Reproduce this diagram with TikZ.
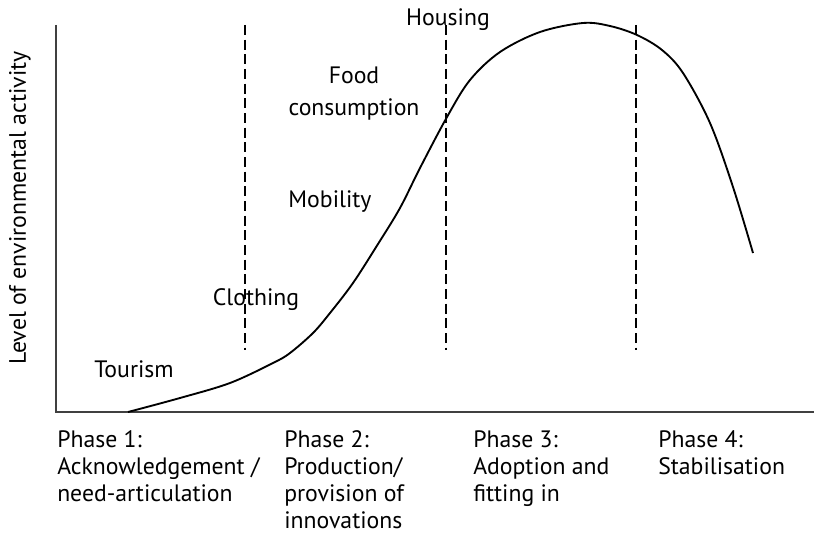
\documentclass[tikz,border=0pt]{standalone}
\usepackage{fontspec}
\setmainfont{PT Sans}
\usetikzlibrary{positioning}

\begin{document}
\begin{tikzpicture}[x=0.75pt,y=-0.75pt,
  item/.style={font=\fontsize{17.8}{24}\selectfont, inner sep=0pt},
  phase/.style={font=\fontsize{17.8}{20.3}\selectfont, align=left, anchor=north west, inner sep=0pt},
  phaseline/.style={dash pattern=on 7.5pt off 3.5pt, line width=0.8pt}]
  \useasboundingbox (0,0) rectangle (814,542);

  \draw[line width=1.1pt, black!75] (56,25) -- (56,412) -- (814,412) ; %Draw axes

  \draw[phaseline] (245,25) -- (245,350) ; %Phase boundaries
  \draw[phaseline] (446,25) -- (446,350) ;
  \draw[phaseline] (636,25) -- (636,350) ;

  \draw[line width=1.4pt] plot[smooth, tension=0.55] coordinates {
    (128,412) (180,398) (230,383) (273,363) (290,353) (313,333) (330,313)
    (353,283) (378,244) (400,208) (420,168) (447,117) (470,80) (500,52)
    (540,32) (583,23) (610,26) (637,35) (662,50) (683,73) (710,123)
    (733,187) (753,253)} ; %Draw activity curve

  \node[item, rotate=90] (ylabel) at (20,208) {Level of environmental activity};
  \node[item] (tourism) at (134,369) {Tourism};
  \node[item] (clothing) at (256,300) {Clothing};
  \node[item] (mobility) at (330,202) {Mobility};
  \node[item, align=center] (food) at (354,94) {Food\\consumption};
  \node[item] (housing) at (448,20) {Housing};

  \node[phase] (phaseone) at (57,430) {Phase 1:\\Acknowledgement /\\need-articulation};
  \node[phase] (phasetwo) at (284,430) {Phase 2:\\Production/\\provision of\\innovations};
  \node[phase] (phasethree) at (473,430) {Phase 3:\\Adoption and\\fitting in};
  \node[phase] (phasefour) at (658,430) {Phase 4:\\Stabilisation};
\end{tikzpicture}
\end{document}
